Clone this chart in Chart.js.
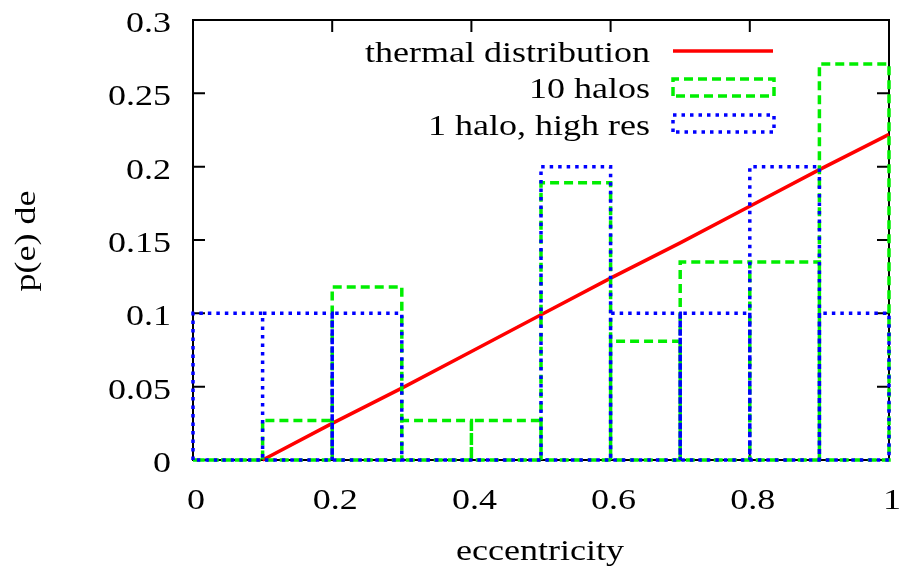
<!DOCTYPE html>
<html>
<head>
<meta charset="utf-8">
<script src="https://cdn.jsdelivr.net/npm/chart.js@4/dist/chart.umd.min.js"></script>
<style>
  html, body { margin: 0; padding: 0; background: #fff; }
  #wrap { width: 901px; height: 570px; }
</style>
</head>
<body>
<div id="wrap"><canvas id="c" width="901" height="570"></canvas></div>
<script>
// histogram bins (eccentricity)
const binEdges = [0, 0.1, 0.2, 0.3, 0.4, 0.5, 0.6, 0.7, 0.8, 0.9, 1.0];
const tenHalos = [0, 0.027, 0.118, 0.027, 0.027, 0.189, 0.081, 0.135, 0.135, 0.270];
const oneHaloHighRes = [0.1, 0.1, 0.1, 0, 0, 0.2, 0.1, 0.1, 0.2, 0.1];

// thermal distribution line
const thermalE = [0.1, 0.2, 0.3, 0.4, 0.5, 0.6, 0.7, 0.8, 0.9, 1.0];
const thermalP = [0, 0.025, 0.049, 0.074, 0.099, 0.124, 0.148, 0.173, 0.198, 0.222];

const legendLabels = ['thermal distribution', '10 halos', '1 halo, high res'];
const xTicks = [0, 0.2, 0.4, 0.6, 0.8, 1];
const xTickLabels = ['0', '0.2', '0.4', '0.6', '0.8', '1'];
const yTicks = [0, 0.05, 0.1, 0.15, 0.2, 0.25, 0.3];
const yTickLabels = ['0', '0.05', '0.1', '0.15', '0.2', '0.25', '0.3'];

const FONT = '30px "Liberation Serif", "Times New Roman", Times, serif';
const STRETCH = 1.2;

// outline of gnuplot style boxes, one continuous path
function boxOutline(values) {
    const pts = [{ x: binEdges[0], y: 0 }];
    values.forEach((h, i) => {
        pts.push({ x: binEdges[i], y: h });
        pts.push({ x: binEdges[i + 1], y: h });
        pts.push({ x: binEdges[i + 1], y: 0 });
    });
    pts.push({ x: binEdges[0], y: 0 });
    return pts;
}

// the reference font is wider than Times, so stretch along the text
function drawText(ctx, text, x, y, align, rot) {
    ctx.save();
    ctx.translate(x, y);
    if (rot) ctx.rotate(rot);
    ctx.scale(STRETCH, 1);
    ctx.textAlign = align;
    ctx.textBaseline = 'alphabetic';
    ctx.fillText(text, 0, 0);
    ctx.restore();
}

function sampleBox(ctx, x, y, w, h) {
    ctx.beginPath();
    ctx.moveTo(x, y + h);
    ctx.lineTo(x, y);
    ctx.lineTo(x + w, y);
    ctx.lineTo(x + w, y + h);
    ctx.lineTo(x, y + h);
    ctx.stroke();
}

const frame = {
    id: 'frame',
    beforeDatasetsDraw(chart) {
        const ctx = chart.ctx;
        const a = chart.chartArea;
        const xs = chart.scales.x, ys = chart.scales.y;
        ctx.save();
        ctx.strokeStyle = '#000';
        ctx.lineWidth = 2;
        ctx.strokeRect(a.left, a.top, a.right - a.left, a.bottom - a.top);
        ctx.beginPath();
        xTicks.forEach(v => {
            const px = xs.getPixelForValue(v);
            ctx.moveTo(px, a.bottom); ctx.lineTo(px, a.bottom - 12);
            ctx.moveTo(px, a.top); ctx.lineTo(px, a.top + 12);
        });
        yTicks.forEach(v => {
            const py = ys.getPixelForValue(v);
            ctx.moveTo(a.left, py); ctx.lineTo(a.left + 12, py);
            ctx.moveTo(a.right, py); ctx.lineTo(a.right - 12, py);
        });
        ctx.stroke();

        ctx.fillStyle = '#000';
        ctx.font = FONT;
        xTicks.forEach((v, i) => {
            drawText(ctx, xTickLabels[i], xs.getPixelForValue(v) + 3, a.bottom + 49, 'center');
        });
        yTicks.forEach((v, i) => {
            drawText(ctx, yTickLabels[i], a.left - 22, ys.getPixelForValue(v) + 12, 'right');
        });
        drawText(ctx, 'eccentricity', 540, 560, 'center');
        drawText(ctx, 'p(e) de', 35, 241, 'center', -Math.PI / 2);
        ctx.restore();
    },
    afterDatasetsDraw(chart) {
        const ctx = chart.ctx;
        const ds = chart.data.datasets;
        const rows = [62, 98, 135];
        ctx.save();
        ctx.fillStyle = '#000';
        ctx.font = FONT;
        legendLabels.forEach((t, i) => {
            drawText(ctx, t, 650, rows[i], 'right');
        });
        // red line sample
        ctx.strokeStyle = ds[0].borderColor;
        ctx.lineWidth = ds[0].borderWidth;
        ctx.setLineDash([]);
        ctx.beginPath();
        ctx.moveTo(673, 51); ctx.lineTo(773, 51);
        ctx.stroke();
        // box samples
        ctx.strokeStyle = ds[1].borderColor;
        ctx.lineWidth = ds[1].borderWidth;
        ctx.setLineDash(ds[1].borderDash);
        sampleBox(ctx, 673, 79, 101, 17);
        ctx.strokeStyle = ds[2].borderColor;
        ctx.lineWidth = ds[2].borderWidth;
        ctx.setLineDash(ds[2].borderDash);
        sampleBox(ctx, 673, 115, 101, 17);
        ctx.restore();
    }
};

const ctx = document.getElementById('c').getContext('2d');
new Chart(ctx, {
    type: 'line',
    data: {
        datasets: [
            {
                label: legendLabels[0],
                data: thermalE.map((e, i) => ({ x: e, y: thermalP[i] })),
                borderColor: '#ff0000',
                borderWidth: 3.5,
                order: 3
            },
            {
                label: legendLabels[1],
                data: boxOutline(tenHalos),
                borderColor: '#00ee00',
                borderWidth: 3.5,
                borderDash: [9, 5],
                order: 2
            },
            {
                label: legendLabels[2],
                data: boxOutline(oneHaloHighRes),
                borderColor: '#0000ff',
                borderWidth: 3.5,
                borderDash: [3.5, 5],
                order: 1
            }
        ]
    },
    options: {
        responsive: false,
        animation: false,
        clip: false,
        layout: { padding: { left: 193, right: 12, top: 20, bottom: 110 } },
        elements: {
            point: { radius: 0 },
            line: { tension: 0, fill: false, borderCapStyle: 'butt' }
        },
        scales: {
            x: { type: 'linear', min: 0, max: 1, display: false },
            y: { type: 'linear', min: 0, max: 0.3, display: false }
        },
        plugins: {
            legend: { display: false },
            tooltip: { enabled: false }
        }
    },
    plugins: [frame]
});
</script>
</body>
</html>
